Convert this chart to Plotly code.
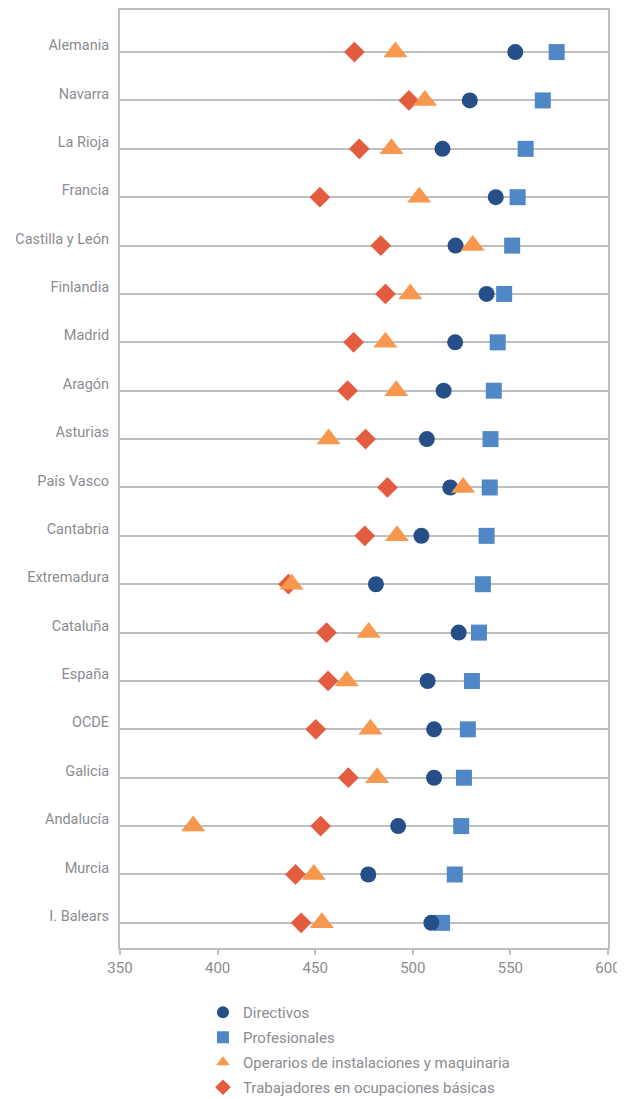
import plotly.graph_objects as go

categories = ["Alemania", "Navarra", "La Rioja", "Francia", "Castilla y León", "Finlandia",
              "Madrid", "Aragón", "Asturias", "País Vasco", "Cantabria", "Extremadura",
              "Cataluña", "España", "OCDE", "Galicia", "Andalucía", "Murcia", "I. Balears"]

directivos = [552.5, 529.2, 515.2, 542.5, 521.9, 537.8, 521.7, 515.8, 507.2, 519.2, 504.4, 481.1,
              523.5, 507.6, 510.9, 510.9, 492.5, 477.2, 509.5]
profesionales = [573.7, 566.6, 557.8, 553.7, 550.9, 546.8, 543.5, 541.5, 539.8, 539.4, 537.8, 535.9,
                 533.9, 530.3, 528.2, 526.2, 524.8, 521.5, 515.0]
operarios = [491.1, 506.2, 489.1, 503.3, 530.7, 498.7, 486.0, 491.5, 456.9, 525.8, 491.9, 437.9,
             477.4, 466.2, 478.3, 481.7, 387.5, 449.3, 453.4]
trabajadores = [470.1, 498.0, 472.6, 452.4, 483.6, 486.0, 469.7, 466.6, 475.8, 487.0, 475.4, 436.3,
                455.8, 456.6, 450.3, 467.0, 452.8, 439.9, 442.8]

n = len(categories)
ypos = [n - 1 - i for i in range(n)]

FONT = "Roboto, Liberation Sans, sans-serif"
GRAY = "#8a8c91"
GRID = "#bdbfc2"

series = [
    ("Profesionales", profesionales, "square", "#5087c7", 16, 2),
    ("Trabajadores en ocupaciones básicas", trabajadores, "diamond", "#e45c3f", 16, 4),
    ("Directivos", directivos, "circle", "#264f89", 16, 1),
    ("Operarios de instalaciones y maquinaria", operarios, "triangle-up", "#f7984e", 21, 3),
]

fig = go.Figure()
for name, vals, sym, col, size, rank in series:
    fig.add_trace(go.Scatter(
        x=vals, y=ypos, mode="markers", name=name, legendrank=rank, legendgroup=name,
        marker=dict(symbol=sym, color=col, size=size, line=dict(width=0)),
    ))

fig.update_layout(
    width=617, height=1091,
    margin=dict(l=112, r=17, t=2, b=151),
    paper_bgcolor="white", plot_bgcolor="white",
    font=dict(family=FONT, color=GRAY, size=15),
    showlegend=True,
    legend=dict(orientation="v", xref="paper", yref="container",
                x=0.17, xanchor="left", y=0.0944, yanchor="top",
                font=dict(family=FONT, size=15, color=GRAY), itemwidth=30,
                itemsizing="constant",
                tracegroupgap=2.5, bgcolor="rgba(0,0,0,0)"),
    xaxis=dict(range=[350, 600], tickvals=[350, 400, 450, 500, 550, 600],
               showgrid=False, zeroline=False, showline=True, linecolor=GRID, linewidth=2,
               mirror=True, ticks="outside", ticklen=5, tickcolor=GRID, tickwidth=2,
               automargin=False,
               tickfont=dict(family=FONT, size=15, color=GRAY)),
    yaxis=dict(range=[-0.52, n - 1 + 0.87], tickvals=ypos, ticktext=categories,
               showgrid=True, gridcolor=GRID, gridwidth=2, zeroline=False,
               showline=True, linecolor=GRID, linewidth=2, mirror=True,
               ticks="", ticklabelstandoff=6, ticklabelshift=-7, automargin=False,
               tickfont=dict(family=FONT, size=14.5, color=GRAY)),
)

fig.write_html("out.html")
